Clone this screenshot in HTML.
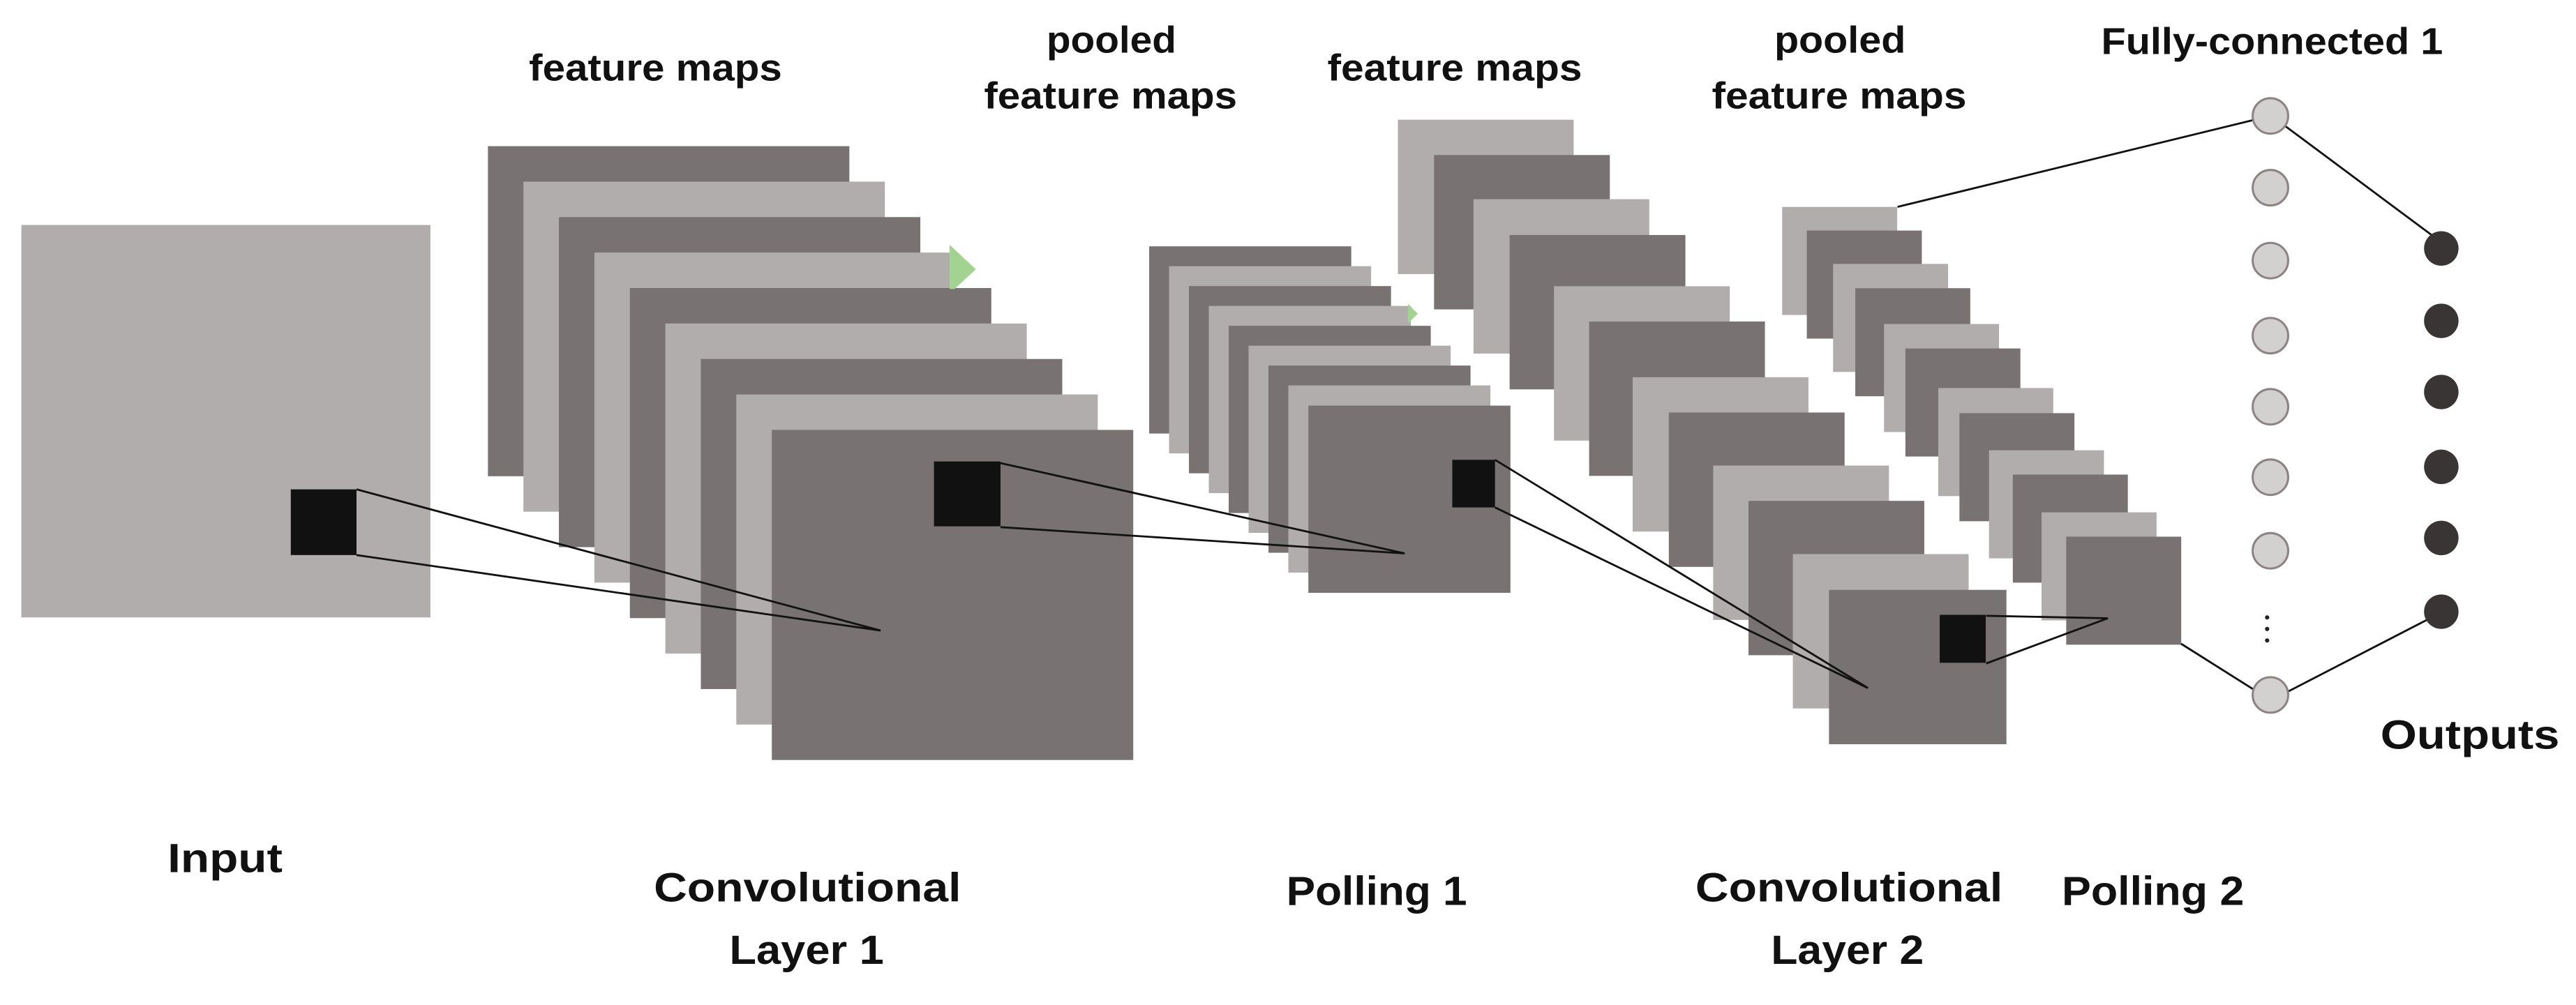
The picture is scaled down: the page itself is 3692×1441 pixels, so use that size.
<!DOCTYPE html>
<html><head><meta charset="utf-8"><style>
html,body{margin:0;padding:0;background:#fff;}
svg{display:block;}
text{font-family:"Liberation Sans",sans-serif;font-weight:bold;fill:#111;}
</style></head><body>
<svg width="3692" height="1441" viewBox="0 0 1568 612" preserveAspectRatio="none" xmlns="http://www.w3.org/2000/svg">
<rect width="1568" height="612" fill="#fff"/>
<!-- Input -->
<rect x="13" y="137" width="249" height="239" fill="#b0adac"/>
<rect x="177" y="298" width="40" height="40" fill="#111"/>
<!-- Conv1 stack -->
<g id="c1">
<rect x="297" y="89" width="220" height="201" fill="#797272"/>
<rect x="318.6" y="110.6" width="220" height="201" fill="#b0adac"/>
<rect x="340.2" y="132.2" width="220" height="201" fill="#797272"/>
<rect x="361.8" y="153.8" width="220" height="201" fill="#b0adac"/>
<rect x="383.4" y="175.4" width="220" height="201" fill="#797272"/>
<rect x="405" y="197" width="220" height="201" fill="#b0adac"/>
<rect x="426.6" y="218.6" width="220" height="201" fill="#797272"/>
<rect x="448.2" y="240.2" width="220" height="201" fill="#b0adac"/>
<rect x="469.8" y="261.8" width="220" height="201" fill="#797272"/>
</g>
<polygon points="578,149 594,164 581,176 578,176" fill="#a3d391"/>
<rect x="568.5" y="281" width="40.5" height="39.5" fill="#111"/>
<!-- lines input -> conv1 -->
<polyline points="217,298 536,384 217,338" fill="none" stroke="#111" stroke-width="1.2"/>
<!-- Pool1 stack -->
<rect x="699.5" y="150" width="123" height="114" fill="#797272"/>
<rect x="711.6" y="162.1" width="123" height="114" fill="#b0adac"/>
<rect x="723.7" y="174.2" width="123" height="114" fill="#797272"/>
<rect x="735.8" y="186.3" width="123" height="114" fill="#b0adac"/>
<polygon points="857,185 863,191 857,197" fill="#a3d391"/>
<rect x="747.9" y="198.4" width="123" height="114" fill="#797272"/>
<rect x="760" y="210.5" width="123" height="114" fill="#b0adac"/>
<rect x="772.1" y="222.6" width="123" height="114" fill="#797272"/>
<rect x="784.2" y="234.7" width="123" height="114" fill="#b0adac"/>
<rect x="796.4" y="247" width="123" height="114" fill="#797272"/>
<rect x="884" y="280" width="26" height="29" fill="#111"/>
<polyline points="609,282 855,337 609,321" fill="none" stroke="#111" stroke-width="1.2"/>
<!-- Conv2 stack -->
<rect x="850.9" y="72.9" width="107" height="94" fill="#b0adac"/>
<rect x="872.9" y="94.4" width="107" height="94" fill="#797272"/>
<rect x="896.9" y="121.3" width="107" height="94" fill="#b0adac"/>
<rect x="918.9" y="143.1" width="107" height="94" fill="#797272"/>
<rect x="945.9" y="174.3" width="107" height="94" fill="#b0adac"/>
<rect x="967.3" y="195.8" width="107" height="94" fill="#797272"/>
<rect x="993.8" y="229.7" width="107" height="94" fill="#b0adac"/>
<rect x="1015.8" y="251.2" width="107" height="94" fill="#797272"/>
<rect x="1042.8" y="283.5" width="107" height="94" fill="#b0adac"/>
<rect x="1064.3" y="305" width="107" height="94" fill="#797272"/>
<rect x="1091.3" y="337.4" width="107" height="94" fill="#b0adac"/>
<rect x="1113.3" y="359.2" width="108" height="94" fill="#797272"/>
<rect x="1180.7" y="374.4" width="28" height="29.2" fill="#111"/>
<polyline points="910,280 1137,419 910,309" fill="none" stroke="#111" stroke-width="1.2"/>
<!-- Pool2 stack -->
<rect x="1084.8" y="126" width="70" height="65.8" fill="#b0adac"/>
<rect x="1099.8" y="140.4" width="70" height="65.8" fill="#797272"/>
<rect x="1115.8" y="160.7" width="70" height="65.8" fill="#b0adac"/>
<rect x="1129.3" y="175.5" width="70" height="65.8" fill="#797272"/>
<rect x="1146.8" y="197.3" width="70" height="65.8" fill="#b0adac"/>
<rect x="1159.8" y="212.2" width="70" height="65.8" fill="#797272"/>
<rect x="1179.8" y="236.3" width="70" height="65.8" fill="#b0adac"/>
<rect x="1192.7" y="251.6" width="70" height="65.8" fill="#797272"/>
<rect x="1210.7" y="274.2" width="70" height="65.8" fill="#b0adac"/>
<rect x="1225.2" y="289" width="70" height="65.8" fill="#797272"/>
<rect x="1242.7" y="312" width="70" height="65.8" fill="#b0adac"/>
<rect x="1257.7" y="326.8" width="70" height="65.8" fill="#797272"/>
<polyline points="1209,375 1283,376.5 1209,404" fill="none" stroke="#111" stroke-width="1.2"/>
<!-- FC lines -->
<line x1="1155" y1="126" x2="1372" y2="73" stroke="#111" stroke-width="1.2"/>
<line x1="1390" y1="76" x2="1484" y2="146" stroke="#111" stroke-width="1.2"/>
<line x1="1327.6" y1="392" x2="1372" y2="420" stroke="#111" stroke-width="1.2"/>
<line x1="1391" y1="422" x2="1484" y2="374" stroke="#111" stroke-width="1.2"/>
<!-- FC nodes -->
<g fill="#d3d1d0" stroke="#8c8484" stroke-width="1.3">
<circle cx="1382" cy="70.6" r="10.8"/>
<circle cx="1382" cy="114.3" r="10.8"/>
<circle cx="1382" cy="158.7" r="10.8"/>
<circle cx="1382" cy="204.4" r="10.8"/>
<circle cx="1382" cy="247.7" r="10.8"/>
<circle cx="1382" cy="290.6" r="10.8"/>
<circle cx="1382" cy="335.4" r="10.8"/>
<circle cx="1382" cy="423.2" r="10.8"/>
</g>
<g fill="#222">
<circle cx="1380" cy="376" r="1.3"/>
<circle cx="1380" cy="383" r="1.3"/>
<circle cx="1380" cy="390" r="1.3"/>
</g>
<g fill="#3a3535">
<circle cx="1486" cy="151.3" r="10.5"/>
<circle cx="1486" cy="195.4" r="10.5"/>
<circle cx="1486" cy="238.7" r="10.5"/>
<circle cx="1486" cy="284.3" r="10.5"/>
<circle cx="1486" cy="327.6" r="10.5"/>
<circle cx="1486" cy="372.5" r="10.5"/>
</g>
<!-- labels -->
<g font-size="23">
<text x="322" y="49" textLength="154" lengthAdjust="spacingAndGlyphs">feature maps</text>
<text x="637" y="32" textLength="79" lengthAdjust="spacingAndGlyphs">pooled</text>
<text x="599" y="66" textLength="154" lengthAdjust="spacingAndGlyphs">feature maps</text>
<text x="808" y="49" textLength="155" lengthAdjust="spacingAndGlyphs">feature maps</text>
<text x="1080" y="32" textLength="80" lengthAdjust="spacingAndGlyphs">pooled</text>
<text x="1042" y="66" textLength="155" lengthAdjust="spacingAndGlyphs">feature maps</text>
<text x="1279" y="33" textLength="208" lengthAdjust="spacingAndGlyphs">Fully-connected  1</text>
</g>
<g font-size="25">
<text x="1449" y="456" textLength="109" lengthAdjust="spacingAndGlyphs">Outputs</text>
<text x="102" y="531" textLength="70" lengthAdjust="spacingAndGlyphs">Input</text>
<text x="398" y="549" textLength="187" lengthAdjust="spacingAndGlyphs">Convolutional</text>
<text x="444" y="587" textLength="94" lengthAdjust="spacingAndGlyphs">Layer 1</text>
<text x="783" y="551" textLength="110" lengthAdjust="spacingAndGlyphs">Polling 1</text>
<text x="1032" y="549" textLength="187" lengthAdjust="spacingAndGlyphs">Convolutional</text>
<text x="1078" y="587" textLength="93" lengthAdjust="spacingAndGlyphs">Layer 2</text>
<text x="1255" y="551" textLength="111" lengthAdjust="spacingAndGlyphs">Polling 2</text>
</g>
</svg>
</body></html>
